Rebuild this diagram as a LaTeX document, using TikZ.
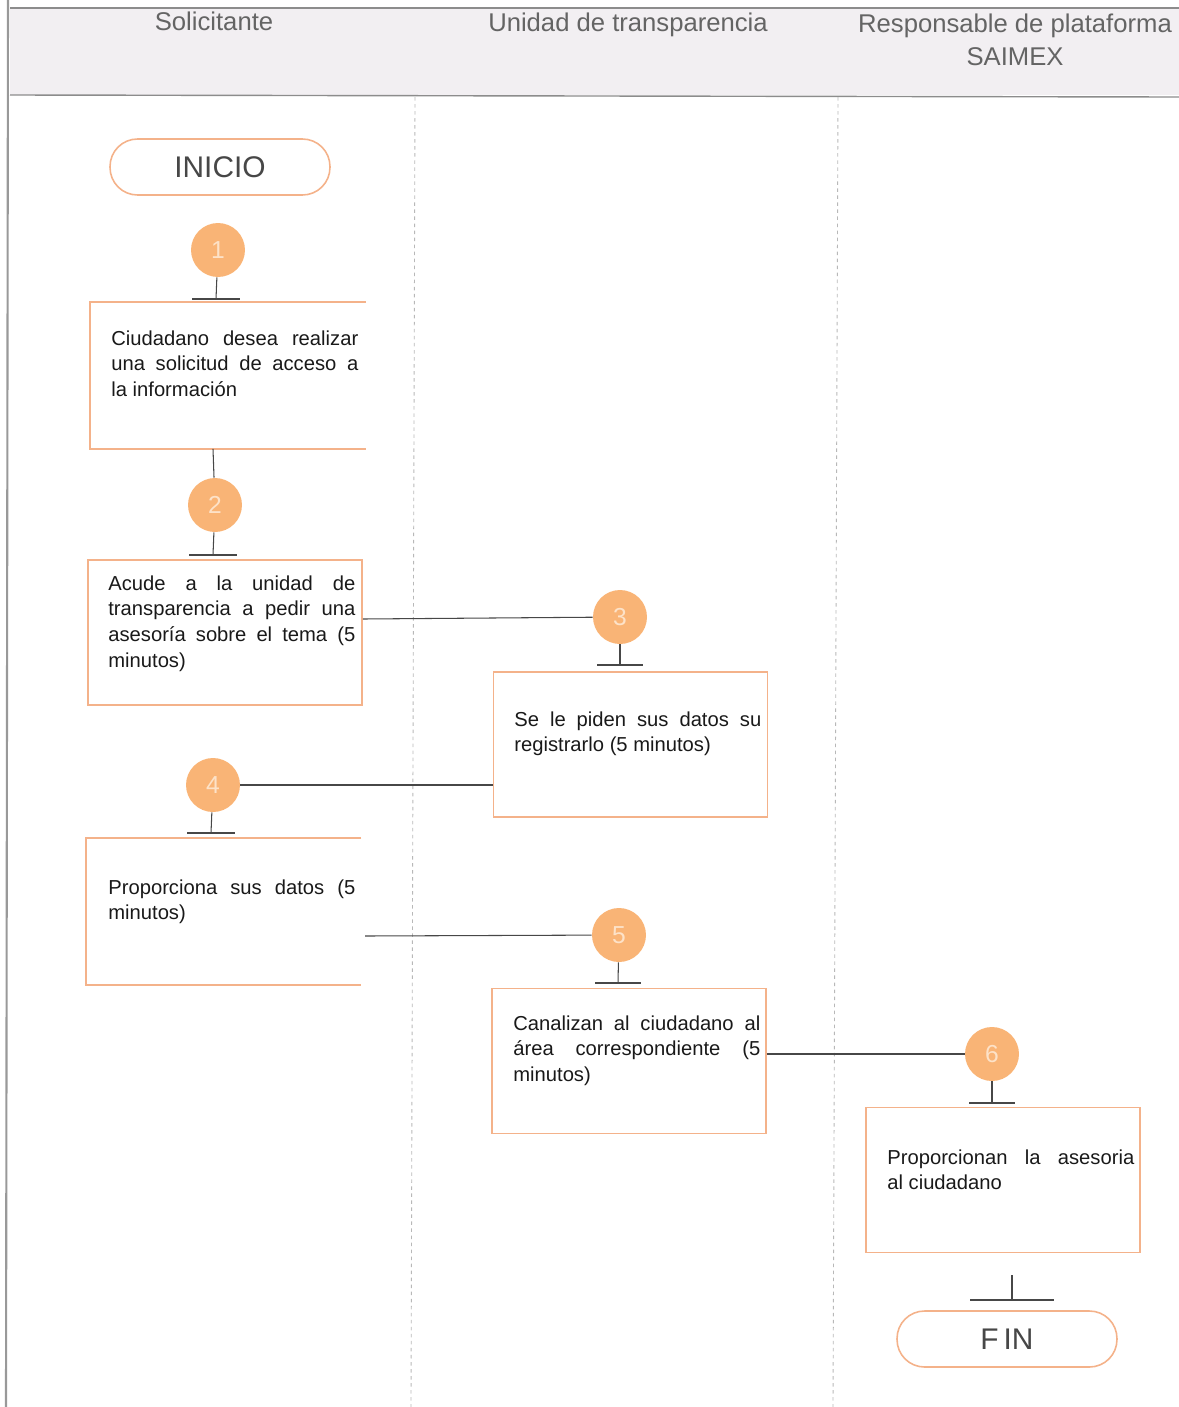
\documentclass[tikz,border=0pt]{standalone}
\usepackage{fontspec}
\setmainfont{Liberation Sans}
\usetikzlibrary{calc}

\definecolor{lanefill}{RGB}{242,239,242}
\definecolor{boxline}{RGB}{244,178,138}
\definecolor{stepfill}{RGB}{249,180,118}
\definecolor{stepnum}{RGB}{253,226,200}
\definecolor{headtext}{RGB}{100,100,100}

\tikzset{
  box/.style={draw=boxline, line width=1pt, minimum width=5.48cm, minimum height=2.9cm, inner sep=0pt},
  openbox/.style={box, draw=none},
  txt/.style={text width=4.94cm, align=justify, inner sep=0pt, anchor=base west,
    font=\fontsize{11.5}{14.7}\selectfont, text=black!90},
  stepnode/.style={circle, fill=stepfill, minimum size=1.08cm, inner sep=0pt,
    text=stepnum, font=\fontsize{14}{14}\selectfont},
  term/.style={draw=boxline, line width=0.9pt, rounded corners=0.55cm, minimum width=4.4cm,
    minimum height=1.12cm, font=\fontsize{17}{17}\selectfont, text=black!72},
  link/.style={draw=black!72, line width=0.6pt},
  lane/.style={draw=black!28, dash pattern=on 2pt off 2pt, line width=0.5pt},
  head/.style={font=\fontsize{14.6}{18.7}\selectfont, text=headtext, align=center}
}

\begin{document}
\begin{tikzpicture}[x=0.02cm, y=-0.02cm]
  \useasboundingbox (0,0) rectangle (1179,1407);

  \fill[lanefill] (10,8) rectangle (1179,95);
  \draw[black!45, line width=0.8pt] (10,8) -- (1179,8);
  \draw[black!45, line width=0.8pt] (10,95) -- (1179,97);
  \draw[black!40, line width=1.2pt] (8,0) -- (6,1407);
  \draw[lane] (415,97) -- (411,1407);
  \draw[lane] (838,97) -- (833,1407);

  \node[head, anchor=base] (h1) at (214,30) {Solicitante};
  \node[head, anchor=base] (h2) at (628,31) {Unidad de transparencia};
  \node[head, anchor=base] (h3) at (1015,65) {Responsable de plataforma\\SAIMEX};

  \node[term] (inicio) at (220,167) {INICIO};
  \node[term] (fin) at (1007,1339) {F\,IN};

  % pasos
  \node[stepnode] (c1) at (218,250) {1};
  \node[stepnode] (c2) at (215,505) {2};
  \node[stepnode] (c3) at (620,617) {3};
  \node[stepnode] (c4) at (213,785) {4};
  \node[stepnode] (c5) at (619,935) {5};
  \node[stepnode] (c6) at (992,1054) {6};

  \node[openbox] (b1) at (228,375.5) {};
  \draw[boxline, line width=1pt] (b1.north east) -- (b1.north west) -- (b1.south west) -- (b1.south east);
  \node[box] (b2) at (225,632.5) {};
  \node[box] (b3) at (630.5,744.5) {};
  \node[openbox] (b4) at (223.5,911.5) {};
  \draw[boxline, line width=1pt] (b4.north east) -- (b4.north west) -- (b4.south west) -- (b4.south east);
  \node[box] (b5) at (629,1061) {};
  \node[box] (b6) at (1003,1180) {};

  \node[txt] (t1) at (111,345) {Ciudadano desea realizar\linebreak una solicitud de acceso a\linebreak la información};
  \node[txt] (t2) at (108,590) {Acude a la unidad de\linebreak transparencia a pedir una\linebreak asesoría sobre el tema (5\linebreak minutos)};
  \node[txt] (t3) at (514,726) {Se le piden sus datos su\linebreak registrarlo (5 minutos)};
  \node[txt] (t4) at (108,894) {Proporciona sus datos (5\linebreak minutos)};
  \node[txt] (t5) at (513,1030) {Canalizan al ciudadano al\linebreak área correspondiente (5\linebreak minutos)};
  \node[txt] (t6) at (887,1164) {Proporcionan la asesoria\linebreak al ciudadano};

  % conectores
  \coordinate (k1) at (216,299);
  \coordinate (k2) at (213,555);
  \coordinate (k3) at (620,665);
  \coordinate (k4) at (211,833);
  \coordinate (k5) at (618,983);
  \coordinate (k6) at (992,1103);
  \coordinate (k7) at (1012,1300);
  \coordinate (k7top) at (1012,1275);

  \draw[link] (c1) -- (k1);
  \draw[link] ($(b1.south)+(-15,0)$) -- (c2);
  \draw[link] (c2) -- (k2);
  \draw[link] (b2.east |- 0,619) -- (c3);
  \draw[link] (c3) -- (k3);
  \draw[link] (b3.west |- 0,785) -- (c4);
  \draw[link] (c4) -- (k4);
  \draw[link] (365,936) -- (c5);
  \draw[link] (c5) -- (k5);
  \draw[link] (b5.east |- 0,1054) -- (c6);
  \draw[link] (c6) -- (k6);
  \draw[link] (k7top) -- (k7);
  \foreach \k/\w in {k1/24, k2/24, k3/23, k4/24, k5/23, k6/23, k7/42}
    \draw[link, line width=1pt] ($(\k)+(-\w,0)$) -- ($(\k)+(\w,0)$);
\end{tikzpicture}
\end{document}
